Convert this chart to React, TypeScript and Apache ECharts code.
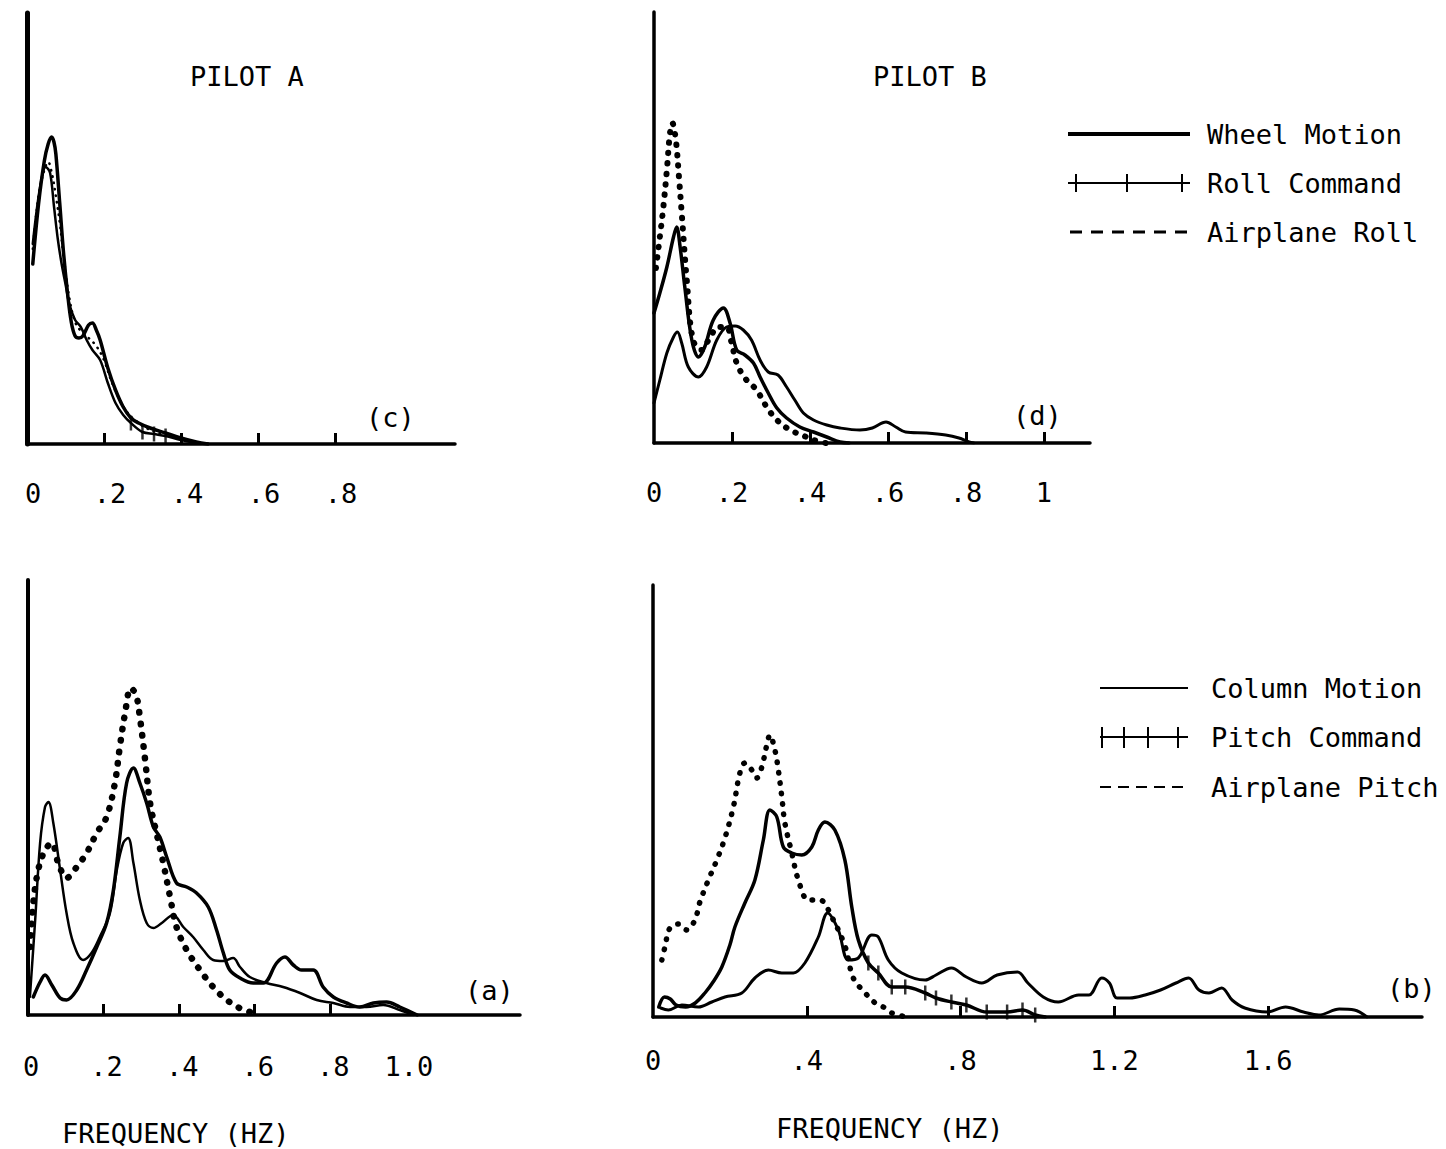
import React, { useEffect, useRef } from "react";
import * as echarts from "echarts";

// ---------- Panel (c) PILOT A : roll axis (x = frequency Hz, y = relative power) ----------
const cWheelMotion: [number, number][] = [
  [0.015, 180], [0.03, 240], [0.045, 283], [0.055, 300], [0.064, 307], [0.07, 302], [0.075, 290],
  [0.085, 241], [0.095, 191], [0.105, 152], [0.115, 122], [0.125, 108], [0.135, 106], [0.145, 108],
  [0.16, 119], [0.17, 121], [0.18, 114], [0.19, 104], [0.21, 76], [0.23, 54], [0.25, 37], [0.27, 26],
  [0.29, 21], [0.32, 16], [0.36, 11], [0.4, 6], [0.44, 2], [0.47, 0],
];
const cRollCommand: [number, number][] = [
  [0.015, 200], [0.034, 257], [0.049, 277], [0.06, 271], [0.07, 238], [0.08, 205], [0.09, 180],
  [0.1, 160], [0.11, 140], [0.125, 124], [0.14, 117], [0.155, 104], [0.17, 94], [0.19, 84],
  [0.21, 61], [0.23, 41], [0.25, 29], [0.27, 21], [0.3, 12], [0.33, 10], [0.36, 8], [0.4, 4],
  [0.44, 1], [0.47, 0],
];
const cAirplaneRoll: [number, number][] = [
  [0.015, 195], [0.03, 248], [0.045, 274], [0.055, 282], [0.065, 270], [0.075, 248], [0.085, 222],
  [0.095, 188], [0.11, 146], [0.125, 122], [0.14, 113], [0.16, 106], [0.18, 98], [0.2, 84],
  [0.22, 62], [0.24, 45], [0.26, 32], [0.28, 24], [0.31, 16], [0.35, 10], [0.4, 5], [0.45, 1],
];

// ---------- Panel (d) PILOT B : roll axis ----------
const dWheelMotion: [number, number][] = [
  [0, 130], [0.015, 150], [0.033, 176], [0.05, 206], [0.058, 216], [0.067, 196], [0.079, 156],
  [0.097, 103], [0.114, 86], [0.13, 96], [0.152, 123], [0.178, 135], [0.195, 120], [0.212, 93],
  [0.233, 88], [0.255, 80], [0.272, 66], [0.293, 50], [0.315, 35], [0.34, 25], [0.374, 16],
  [0.409, 11], [0.443, 6], [0.477, 1], [0.5, 0],
];
const dRollCommand: [number, number][] = [
  [0, 40], [0.015, 63], [0.033, 90], [0.05, 106], [0.06, 111], [0.071, 100], [0.088, 76],
  [0.114, 66], [0.135, 76], [0.161, 103], [0.186, 116], [0.208, 117], [0.229, 113], [0.25, 103],
  [0.272, 83], [0.293, 71], [0.318, 68], [0.34, 56], [0.361, 43], [0.383, 30], [0.409, 23],
  [0.443, 18], [0.477, 15], [0.528, 13], [0.56, 15], [0.595, 21], [0.62, 16], [0.645, 11],
  [0.697, 10], [0.748, 8], [0.782, 5], [0.808, 1], [0.82, 0],
];
const dAirplaneRoll: [number, number][] = [
  [0.005, 175], [0.015, 206], [0.024, 236], [0.033, 273], [0.041, 310], [0.047, 320], [0.056, 303],
  [0.064, 266], [0.071, 230], [0.084, 163], [0.1, 103], [0.122, 93], [0.144, 106], [0.165, 116],
  [0.186, 116], [0.199, 100], [0.212, 80], [0.233, 65], [0.263, 53], [0.289, 36], [0.315, 23],
  [0.349, 13], [0.379, 8], [0.41, 3], [0.44, 0],
];

// ---------- Panel (a) PILOT A : pitch axis ----------
const aColumnMotion: [number, number][] = [
  [0.014, 18], [0.032, 33], [0.045, 40], [0.063, 30], [0.085, 17], [0.102, 15], [0.129, 25],
  [0.155, 45], [0.182, 68], [0.208, 92], [0.226, 125], [0.243, 178], [0.261, 232], [0.279, 247],
  [0.296, 232], [0.314, 212], [0.332, 188], [0.349, 178], [0.367, 158], [0.393, 132], [0.42, 128],
  [0.446, 122], [0.477, 108], [0.499, 85], [0.517, 62], [0.534, 45], [0.561, 37], [0.596, 32],
  [0.623, 32], [0.658, 52], [0.68, 58], [0.702, 50], [0.724, 45], [0.755, 45], [0.781, 28],
  [0.808, 18], [0.843, 12], [0.878, 8], [0.914, 12], [0.949, 13], [0.984, 8], [1.03, 0],
];
const aPitchCommand: [number, number][] = [
  [0.005, 18], [0.019, 95], [0.032, 172], [0.045, 208], [0.054, 213], [0.067, 192], [0.085, 145],
  [0.102, 102], [0.12, 72], [0.146, 55], [0.168, 62], [0.19, 78], [0.217, 102], [0.235, 145],
  [0.252, 172], [0.265, 177], [0.279, 152], [0.296, 115], [0.314, 92], [0.332, 87], [0.354, 92],
  [0.384, 100], [0.411, 88], [0.437, 78], [0.464, 65], [0.49, 55], [0.517, 54], [0.543, 57],
  [0.561, 48], [0.587, 38], [0.631, 32], [0.675, 28], [0.72, 22], [0.764, 15], [0.808, 12],
  [0.852, 8], [0.896, 8], [0.94, 10], [0.984, 5], [1.02, 0],
];
const aAirplanePitch: [number, number][] = [
  [0.005, 68], [0.014, 112], [0.027, 145], [0.045, 165], [0.063, 172], [0.08, 152], [0.102, 137],
  [0.129, 148], [0.155, 162], [0.182, 182], [0.208, 198], [0.23, 232], [0.243, 268], [0.257, 302],
  [0.272, 327], [0.286, 320], [0.296, 298], [0.31, 255], [0.323, 212], [0.34, 182], [0.358, 152],
  [0.376, 118], [0.393, 88], [0.42, 65], [0.455, 45], [0.49, 28], [0.526, 15], [0.56, 7],
  [0.587, 3], [0.6, 0],
];

// ---------- Panel (b) PILOT B : pitch axis ----------
const bColumnMotion: [number, number][] = [
  [0.02, 9], [0.04, 7], [0.075, 12], [0.118, 10], [0.153, 15], [0.187, 20], [0.231, 24],
  [0.265, 39], [0.3, 47], [0.335, 44], [0.365, 44], [0.395, 54], [0.43, 80], [0.454, 104],
  [0.482, 87], [0.508, 57], [0.534, 59], [0.569, 82], [0.586, 80], [0.612, 57], [0.647, 44],
  [0.708, 37], [0.736, 42], [0.776, 49], [0.815, 40], [0.855, 34], [0.895, 42], [0.948, 45],
  [0.975, 34], [1.015, 20], [1.054, 15], [1.107, 22], [1.134, 22], [1.167, 39], [1.187, 34],
  [1.207, 19], [1.24, 19], [1.28, 22], [1.32, 27], [1.36, 34], [1.393, 39], [1.42, 27],
  [1.446, 24], [1.479, 29], [1.506, 17], [1.539, 9], [1.598, 5], [1.645, 10], [1.692, 5],
  [1.732, 2], [1.785, 8], [1.824, 7], [1.857, 0],
];
const bPitchCommand: [number, number][] = [
  [0.015, 10], [0.03, 20], [0.045, 18], [0.06, 12], [0.085, 10], [0.11, 14], [0.135, 24],
  [0.158, 36], [0.179, 50], [0.2, 72], [0.213, 90], [0.239, 114], [0.265, 137], [0.287, 177],
  [0.304, 207], [0.322, 200], [0.339, 170], [0.361, 164], [0.387, 162], [0.413, 170], [0.43, 187],
  [0.447, 195], [0.473, 187], [0.499, 157], [0.517, 110], [0.534, 77], [0.56, 54], [0.586, 44],
  [0.621, 30], [0.656, 30], [0.708, 24], [0.736, 19], [0.776, 15], [0.815, 12], [0.868, 5],
  [0.921, 5], [0.961, 7], [0.994, 2], [1.02, 0],
];
const bAirplanePitch: [number, number][] = [
  [0.023, 57], [0.031, 70], [0.044, 89], [0.066, 93], [0.088, 87], [0.109, 97], [0.122, 115],
  [0.144, 137], [0.166, 157], [0.187, 179], [0.209, 210], [0.226, 244], [0.239, 254], [0.257, 247],
  [0.27, 239], [0.283, 250], [0.296, 272], [0.304, 282], [0.317, 267], [0.326, 247], [0.335, 220],
  [0.343, 194], [0.361, 164], [0.378, 137], [0.404, 117], [0.434, 117], [0.465, 100], [0.5, 70],
  [0.521, 39], [0.552, 24], [0.578, 14], [0.604, 9], [0.621, 4], [0.66, 0],
];

// ---------- Axis tick values and labels ----------
const xLabelValsC = [0, 0.2, 0.4, 0.6, 0.8];
const xLabelsC = ["0", ".2", ".4", ".6", ".8"];
const xTickValsC = [0.2, 0.4, 0.6, 0.8];
const xLabelValsD = [0, 0.2, 0.4, 0.6, 0.8, 1];
const xLabelsD = ["0", ".2", ".4", ".6", ".8", "1"];
const xTickValsD = [0.2, 0.4, 0.6, 0.8, 1];
const xLabelValsA = [0, 0.2, 0.4, 0.6, 0.8, 1.0];
const xLabelsA = ["0", ".2", ".4", ".6", ".8", "1.0"];
const xTickValsA = [0.2, 0.4, 0.6, 0.8];
const xLabelValsB = [0, 0.4, 0.8, 1.2, 1.6];
const xLabelsB = ["0", ".4", ".8", "1.2", "1.6"];
const xTickValsB = [0.4, 0.8, 1.2, 1.6];

// frequency ranges where command curves carry cross-tick marks
const rollCmdTickRangeC: [number, number] = [0.26, 0.37];
const pitchCmdTickRangeB: [number, number] = [0.55, 1.0];

const FONT = "DejaVu Sans Mono";
const FS = 27;

type Panel = {
  left: number; top: number; width: number; height: number; xMax: number;
  labelVals: number[]; labels: string[]; ticks: number[]; labelMargin: number; labelPad: number;
  yAxisWidth: number;
};

const panels: Panel[] = [
  { left: 27, top: 13, width: 428, height: 431, xMax: 1.112, labelVals: xLabelValsC, labels: xLabelsC, ticks: xTickValsC, labelMargin: 36, labelPad: 12, yAxisWidth: 5 },
  { left: 654, top: 12, width: 436, height: 431, xMax: 1.118, labelVals: xLabelValsD, labels: xLabelsD, ticks: xTickValsD, labelMargin: 36, labelPad: 0, yAxisWidth: 3.5 },
  { left: 28, top: 580, width: 492, height: 435, xMax: 1.302, labelVals: xLabelValsA, labels: xLabelsA, ticks: xTickValsA, labelMargin: 38, labelPad: 6, yAxisWidth: 4 },
  { left: 653, top: 585, width: 769, height: 432, xMax: 2.0, labelVals: xLabelValsB, labels: xLabelsB, ticks: xTickValsB, labelMargin: 30, labelPad: 0, yAxisWidth: 3.5 },
];

function solid(name: string, data: [number, number][], idx: number, width: number) {
  return {
    name, type: "line", xAxisIndex: idx, yAxisIndex: idx, data,
    showSymbol: false, symbol: "none", smooth: 0.35,
    lineStyle: { color: "#000", width, cap: "round", join: "round" },
    z: 3,
  };
}
function dotted(name: string, data: [number, number][], idx: number, width: number, gap: number) {
  return {
    name, type: "line", xAxisIndex: idx, yAxisIndex: idx, data,
    showSymbol: false, symbol: "none", smooth: 0.35,
    lineStyle: { color: "#000", width, type: [0.5, gap], cap: "round" },
    z: 2,
  };
}
function crossTicks(data: [number, number][], range: [number, number], idx: number) {
  return {
    type: "scatter", xAxisIndex: idx, yAxisIndex: idx,
    data: data.filter((p) => p[0] >= range[0] && p[0] <= range[1]),
    symbol: "rect", symbolSize: [2.5, 15], itemStyle: { color: "#000" }, z: 4,
  };
}

function txt(text: string, x: number, y: number, size = FS) {
  return {
    type: "text", x, y,
    style: { text, fill: "#000", fontSize: size, fontFamily: FONT, align: "left", verticalAlign: "middle" },
    z: 10,
  };
}
function seg(x1: number, y1: number, x2: number, y2: number, w: number, dash?: number[]) {
  return {
    type: "line", shape: { x1, y1, x2, y2 },
    style: { stroke: "#000", lineWidth: w, lineDash: dash || null },
    z: 10,
  };
}

export default function App() {
  const ref = useRef<HTMLDivElement>(null);
  useEffect(() => {
    if (!ref.current) return;
    const chart = echarts.init(ref.current, undefined, { renderer: "svg" });

    const grid = panels.map((p) => ({ left: p.left, top: p.top, width: p.width, height: p.height, outerBoundsMode: "none", containLabel: false }));
    const xAxis = panels.map((p, i) => ({
      type: "value", gridIndex: i, min: 0, max: p.xMax,
      splitLine: { show: false },
      axisLine: { show: true, onZero: false, lineStyle: { color: "#000", width: 3.5 } },
      axisTick: { show: true, inside: true, length: 11, customValues: p.ticks, lineStyle: { color: "#000", width: 3 } },
      axisLabel: {
        show: true, customValues: p.labelVals, margin: p.labelMargin,
        color: "#000", fontSize: FS, fontFamily: FONT,
        padding: [0, 0, 0, p.labelPad],
        formatter: (v: number) => {
          const k = p.labelVals.findIndex((t) => Math.abs(t - v) < 1e-6);
          return k >= 0 ? p.labels[k] : "";
        },
      },
    }));
    const yAxis = panels.map((p, i) => ({
      type: "value", gridIndex: i, min: 0, max: p.height,
      splitLine: { show: false },
      axisLine: { show: true, onZero: false, lineStyle: { color: "#000", width: p.yAxisWidth } },
      axisTick: { show: false }, axisLabel: { show: false },
    }));

    const series: any[] = [
      // (c)
      solid("Wheel Motion", cWheelMotion, 0, 3.5),
      solid("Roll Command", cRollCommand, 0, 2.5),
      dotted("Airplane Roll", cAirplaneRoll, 0, 2.5, 6),
      crossTicks(cRollCommand, rollCmdTickRangeC, 0),
      // (d)
      solid("Wheel Motion", dWheelMotion, 1, 3.5),
      solid("Roll Command", dRollCommand, 1, 3),
      dotted("Airplane Roll", dAirplaneRoll, 1, 6, 10),
      // (a)
      solid("Column Motion", aColumnMotion, 2, 3.5),
      solid("Pitch Command", aPitchCommand, 2, 2.5),
      dotted("Airplane Pitch", aAirplanePitch, 2, 6.5, 11),
      // (b)
      solid("Column Motion", bColumnMotion, 3, 3),
      solid("Pitch Command", bPitchCommand, 3, 3.5),
      dotted("Airplane Pitch", bAirplanePitch, 3, 5.5, 10),
      crossTicks(bPitchCommand, pitchCmdTickRangeB, 3),
    ];

    const graphic: any[] = [
      txt("PILOT A", 190, 76),
      txt("PILOT B", 873, 76),
      txt("(c)", 366, 417),
      txt("(d)", 1013, 415),
      txt("(a)", 465, 990),
      txt("(b)", 1387, 988),
      txt("FREQUENCY (HZ)", 62, 1133),
      txt("FREQUENCY (HZ)", 776, 1128),
      // legend, roll
      seg(1068, 134, 1190, 134, 4),
      txt("Wheel Motion", 1207, 134),
      seg(1068, 183, 1190, 183, 2),
      seg(1076, 174, 1076, 192, 2),
      seg(1127, 174, 1127, 192, 2),
      seg(1182, 174, 1182, 192, 2),
      txt("Roll Command", 1207, 183),
      seg(1070, 232, 1190, 232, 3, [12, 9]),
      txt("Airplane Roll", 1207, 232),
      // legend, pitch
      seg(1100, 688, 1188, 688, 2),
      txt("Column Motion", 1211, 688),
      seg(1100, 737, 1188, 737, 2),
      seg(1102, 727, 1102, 748, 2),
      seg(1124, 727, 1124, 748, 2),
      seg(1148, 727, 1148, 748, 2),
      seg(1178, 727, 1178, 748, 2),
      txt("Pitch Command", 1211, 737),
      seg(1100, 787, 1188, 787, 2, [11, 7]),
      txt("Airplane Pitch", 1211, 787),
    ];

    chart.setOption({
      animation: false,
      backgroundColor: "#fff",
      grid, xAxis, yAxis, series, graphic,
    });
    return () => chart.dispose();
  }, []);

  return (
    <div
      ref={ref}
      style={{ position: "absolute", left: 0, top: 0, width: 1446, height: 1149, background: "#fff" }}
    />
  );
}
